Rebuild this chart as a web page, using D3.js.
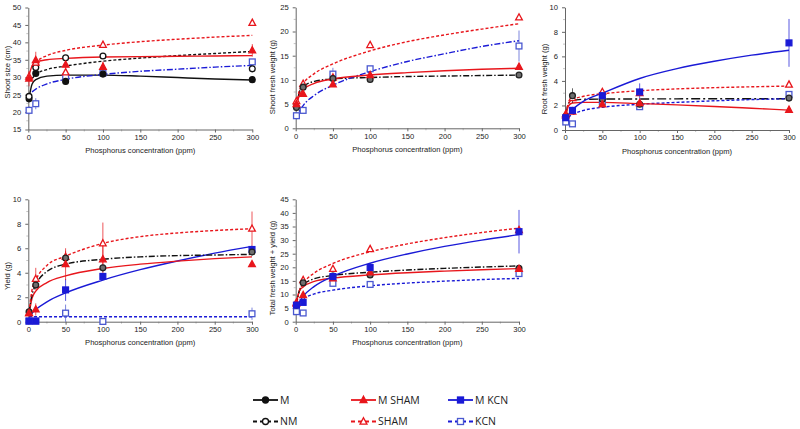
<!DOCTYPE html>
<html><head><meta charset="utf-8">
<script src="https://cdn.jsdelivr.net/npm/d3@7"></script>
<style>
html,body{margin:0;padding:0;background:#fff;}
svg{display:block;font-family:"Liberation Sans",Arial,sans-serif;}
</style></head>
<body>
<svg id="chart" width="800" height="429"></svg>
<script>
// ---------- DATA ----------
const phosphorus = [1, 10, 50, 100, 300];           // measured concentrations (ppm)
const fitX = [1, 5, 10, 25, 50, 100, 150, 200, 250, 300]; // x positions where trend lines were read
const xTicks = [0, 50, 100, 150, 200, 250, 300];
const legendLabels = ["M", "M SHAM", "M KCN", "NM", "SHAM", "KCN"];

// Panel 1: Shoot size (cm)
const shootM      = [23.8, 31.1, 28.8, 30.9, 29.3];
const shootNM     = [24.5, 32.8, 35.6, 36.1, 32.4];
const shootMSHAM  = [29.6, 34.9, 33.6, 33.0, 37.7];
const shootSHAM   = [30.2, 34.2, 31.4, 39.3, 45.6];
const shootKCN    = [20.5, 22.4, 30.1, 31.2, 34.4];
const shootMSHAMse= [2.2, 2.4, 1.2, 1.5, 1.8];
const shootKCNse  = [1.2, 1.6, 0.6, 0.5, 0.6];
const shootSmallSe= [0.4, 0.5, 0.5, 0.5, 0.5];
const shootFitM     = [24.0, 28.0, 29.3, 30.3, 30.6, 30.6, 30.3, 29.9, 29.5, 29.2];
const shootFitNM    = [null, 29.6, 30.8, 32.2, 33.2, 34.6, 35.5, 36.2, 36.8, 37.4];
const shootFitMSHAM = [30.5, 33.2, 34.3, 35.0, 35.4, 35.8, 35.9, 36.0, 36.1, 36.2];
const shootFitSHAM  = [null, 33.0, 34.3, 36.2, 37.7, 39.2, 40.2, 40.9, 41.5, 42.0];
const shootFitKCN   = [null, 25.8, 26.6, 28.1, 29.4, 30.8, 31.7, 32.3, 32.9, 33.4];

// Panel 2: Shoot fresh weight (g)
const sfwMNM    = [4.3, 8.5, 10.3, 10.1, 11.0];
const sfwMSHAM  = [5.0, 7.1, 9.1, 11.0, 12.7];
const sfwSHAM   = [5.6, 9.2, 10.5, 17.2, 22.9];
const sfwKCN    = [2.6, 3.7, 11.2, 12.3, 17.0];
const sfwKCNse  = [0.3, 0.4, 1.3, 0.5, 3.2];
const sfwSmallSe= [0.3, 0.4, 0.4, 0.5, 0.5];
const sfwFitMNM   = [4.3, 7.5, 8.6, 9.7, 10.2, 10.5, 10.7, 10.8, 10.9, 11.0];
const sfwFitMSHAM = [5.0, 6.8, 8.0, 9.3, 10.2, 11.0, 11.5, 11.9, 12.2, 12.4];
const sfwFitSHAM  = [5.0, 7.8, 9.2, 11.3, 13.3, 16.0, 17.9, 19.3, 20.5, 21.6];
const sfwFitKCN   = [1.9, 3.5, 4.7, 6.8, 8.9, 11.7, 13.8, 15.4, 16.9, 18.1];

// Panel 3: Root fresh weight (g)
const rfwMNM    = [1.1, 2.8, 2.5, 2.1, 2.6];
const rfwMSHAM  = [1.2, 1.5, 2.1, 2.2, 1.65];
const rfwSHAM   = [1.3, 2.6, 3.1, 3.0, 3.7];
const rfwMKCN   = [1.0, 1.6, 2.8, 3.1, 7.1];
const rfwKCN    = [0.65, 0.5, 2.3, 1.9, 2.9];
const rfwMKCNse = [0.1, 0.2, 0.3, 0.7, 1.95];
const rfwMNMse  = [0.1, 0.6, 0.2, 0.2, 0.2];
const rfwFitMNM   = [1.2, 2.2, 2.4, 2.5, 2.52, 2.53, 2.54, 2.55, 2.55, 2.55];
const rfwFitMSHAM = [1.2, 2.0, 2.2, 2.25, 2.25, 2.15, 2.05, 1.92, 1.77, 1.62];
const rfwFitSHAM  = [1.4, 2.2, 2.45, 2.75, 2.95, 3.2, 3.35, 3.45, 3.52, 3.58];
const rfwFitMKCN  = [0.9, 1.3, 1.65, 2.35, 3.0, 4.2, 5.0, 5.6, 6.1, 6.5];
const rfwFitKCN   = [0.7, 1.05, 1.25, 1.6, 1.85, 2.1, 2.25, 2.38, 2.48, 2.55];

// Panel 4: Yield (g)
const yldMNM    = [0.8, 3.0, 5.2, 4.4, 5.7];
const yldMSHAM  = [0.7, 1.0, 4.7, 5.1, 4.7];
const yldSHAM   = [0.7, 3.5, 5.3, 6.4, 7.6];
const yldMKCN   = [0.05, 0.05, 2.6, 3.7, 5.9];
const yldKCN    = [0.05, 0.05, 0.7, 0.02, 0.65];
const yldMNMse  = [0.1, 0.3, 0.3, 0.3, 0.3];
const yldMSHAMse= [0.2, 0.5, 1.3, 1.2, 0.2];
const yldSHAMse = [0.2, 0.9, 0.5, 1.7, 1.4];
const yldMKCNse = [0, 0, 0.9, 0.3, 0.3];
const yldKCNse  = [0, 0, 0.7, 0, 0.5];
const yldFitMNM   = [0.8, 2.2, 3.0, 4.1, 4.7, 5.1, 5.3, 5.4, 5.45, 5.5];
const yldFitMSHAM = [0.6, 1.9, 2.5, 3.2, 3.75, 4.35, 4.7, 4.95, 5.15, 5.3];
const yldFitSHAM  = [0.8, 2.6, 3.4, 4.6, 5.35, 6.4, 6.95, 7.25, 7.45, 7.6];
const yldFitMKCN  = [0.3, 0.68, 0.99, 1.62, 2.35, 3.4, 4.25, 4.96, 5.6, 6.15];
const yldFitKCN   = [0.4, 0.4, 0.4, 0.4, 0.4, 0.4, 0.4, 0.4, 0.4, 0.4];

// Panel 5: Total fresh weight + yield (g)
const totMNM    = [6.1, 14.3, 16.8, 17.2, 19.6];
const totMSHAM  = [7.0, 9.8, 15.9, 18.1, 19.4];
const totSHAM   = [6.7, 15.3, 19.4, 26.7, 33.7];
const totMKCN   = [6.1, 7.1, 16.6, 19.9, 33.1];
const totKCN    = [3.7, 3.2, 14.1, 13.7, 17.7];
const totMKCNse = [0.3, 0.5, 1.5, 1.0, 8.0];
const totSmallSe= [0.5, 1.0, 1.0, 1.0, 1.0];
const totFitMNM   = [6.2, 11.5, 13.5, 15.8, 17.0, 18.2, 19.0, 19.6, 20.1, 20.5];
const totFitMSHAM = [6.9, 11.3, 12.8, 14.8, 16.0, 17.2, 18.0, 18.6, 19.1, 19.5];
const totFitSHAM  = [7.6, 11.4, 14.0, 17.9, 21.4, 25.7, 28.6, 30.9, 32.8, 34.4];
const totFitMKCN  = [4.1, 7.2, 9.3, 13.0, 16.7, 21.5, 24.9, 27.7, 30.0, 32.0];
const totFitKCN   = [3.8, 6.8, 8.3, 10.2, 11.6, 13.2, 14.2, 14.9, 15.5, 15.9];

// ---------- STYLES ----------
const RED = "#e8161c", BLUE = "#1a1ad6", BLUE2 = "#4a58d0", BLACK = "#111";
const DASH = {solid: null, dash: "3,2", dashdot: "6,2,1.5,2", longdashdot: "9,3,2,3"};
const MARK = {
  M:     {shape: "circle",   fill: BLACK,  stroke: BLACK},
  NM:    {shape: "circle",   fill: "#fff", stroke: BLACK},
  MNM:   {shape: "circle",   fill: "#6e6e6e", stroke: "#222"},
  MSHAM: {shape: "triangle", fill: RED,    stroke: RED},
  SHAM:  {shape: "triangle", fill: "#fff", stroke: RED},
  MKCN:  {shape: "square",   fill: BLUE,   stroke: BLUE},
  KCN:   {shape: "square",   fill: "#fff", stroke: BLUE2}
};

// ---------- PANELS ----------
const panels = [
  {title: "Shoot size (cm)", yDomain: [15, 50], yStep: 5, x0: 28.3, x1: 252.3, yTop: 7.5, yBot: 129.5, titleX: 7, titleY: 72,
   fits: [
     {v: shootFitM, c: BLACK, d: "solid"}, {v: shootFitNM, c: BLACK, d: "dash"},
     {v: shootFitKCN, c: BLUE, d: "dashdot"}, {v: shootFitMSHAM, c: RED, d: "solid"}, {v: shootFitSHAM, c: RED, d: "dash"}],
   pts: [
     {v: shootKCN, se: shootKCNse, m: "KCN"}, {v: shootM, se: shootSmallSe, m: "M"}, {v: shootNM, se: shootSmallSe, m: "NM"},
     {v: shootSHAM, se: shootSmallSe, m: "SHAM"}, {v: shootMSHAM, se: shootMSHAMse, m: "MSHAM"}]},
  {title: "Shoot fresh weight (g)", yDomain: [0, 25], yStep: 5, x0: 295.7, x1: 519, yTop: 7.3, yBot: 128.3, titleX: 272, titleY: 77,
   fits: [
     {v: sfwFitMNM, c: BLACK, d: "dashdot"}, {v: sfwFitKCN, c: BLUE, d: "dashdot"},
     {v: sfwFitMSHAM, c: RED, d: "solid"}, {v: sfwFitSHAM, c: RED, d: "dash"}],
   pts: [
     {v: sfwKCN, se: sfwKCNse, m: "KCN"}, {v: sfwSHAM, se: sfwSmallSe, m: "SHAM"},
     {v: sfwMNM, se: sfwSmallSe, m: "MNM"}, {v: sfwMSHAM, se: sfwSmallSe, m: "MSHAM"}]},
  {title: "Root fresh weight (g)", yDomain: [0, 10], yStep: 2, x0: 565, x1: 789, yTop: 7.3, yBot: 130, titleX: 544, titleY: 79,
   fits: [
     {v: rfwFitMNM, c: BLACK, d: "longdashdot"}, {v: rfwFitKCN, c: BLUE, d: "dash"},
     {v: rfwFitMSHAM, c: RED, d: "solid"}, {v: rfwFitSHAM, c: RED, d: "dash"}, {v: rfwFitMKCN, c: BLUE, d: "solid"}],
   pts: [
     {v: rfwKCN, se: null, m: "KCN"}, {v: rfwSHAM, se: null, m: "SHAM"}, {v: rfwMNM, se: rfwMNMse, m: "MNM"},
     {v: rfwMSHAM, se: null, m: "MSHAM"}, {v: rfwMKCN, se: rfwMKCNse, m: "MKCN"}]},
  {title: "Yield (g)", yDomain: [0, 10], yStep: 2, x0: 28.3, x1: 252, yTop: 199.3, yBot: 321.7, titleX: 7, titleY: 276,
   fits: [
     {v: yldFitKCN, c: BLUE, d: "dash"}, {v: yldFitMKCN, c: BLUE, d: "solid"}, {v: yldFitMSHAM, c: RED, d: "solid"},
     {v: yldFitMNM, c: BLACK, d: "dashdot"}, {v: yldFitSHAM, c: RED, d: "dash"}],
   pts: [
     {v: yldKCN, se: yldKCNse, m: "KCN"}, {v: yldMKCN, se: yldMKCNse, m: "MKCN"}, {v: yldSHAM, se: yldSHAMse, m: "SHAM"},
     {v: yldMNM, se: yldMNMse, m: "MNM"}, {v: yldMSHAM, se: yldMSHAMse, m: "MSHAM"}]},
  {title: "Total fresh weight + yield (g)", yDomain: [0, 45], yStep: 5, x0: 295.7, x1: 519, yTop: 199.3, yBot: 321.7, titleX: 272, titleY: 268,
   fits: [
     {v: totFitKCN, c: BLUE, d: "dash"}, {v: totFitMSHAM, c: RED, d: "solid"}, {v: totFitMNM, c: BLACK, d: "dashdot"},
     {v: totFitMKCN, c: BLUE, d: "solid"}, {v: totFitSHAM, c: RED, d: "dash"}],
   pts: [
     {v: totKCN, se: null, m: "KCN"}, {v: totSHAM, se: totSmallSe, m: "SHAM"}, {v: totMNM, se: null, m: "MNM"},
     {v: totMSHAM, se: null, m: "MSHAM"}, {v: totMKCN, se: totMKCNse, m: "MKCN"}]}
];

const svg = d3.select("#chart");
const AX = "#666";

function drawMarker(g, cx, cy, key, size) {
  const s = MARK[key];
  const r = size;
  let el;
  if (s.shape === "circle") el = g.append("circle").attr("cx", cx).attr("cy", cy).attr("r", r);
  else if (s.shape === "square") el = g.append("rect").attr("x", cx - r).attr("y", cy - r).attr("width", 2 * r).attr("height", 2 * r);
  else {
    const h = r * 1.15;
    el = g.append("path").attr("d", `M${cx},${cy - h * 1.1}L${cx + h},${cy + h * 0.75}L${cx - h},${cy + h * 0.75}Z`);
  }
  el.attr("fill", s.fill).attr("stroke", s.stroke).attr("stroke-width", 1.3);
}

panels.forEach(p => {
  const x = d3.scaleLinear().domain([0, 300]).range([p.x0, p.x1]);
  const y = d3.scaleLinear().domain(p.yDomain).range([p.yBot, p.yTop]);
  const g = svg.append("g");

  // minor ticks
  const yMinor = d3.range(p.yDomain[0] + p.yStep / 2, p.yDomain[1], p.yStep);
  g.append("g").selectAll("line").data(yMinor).join("line")
    .attr("x1", p.x0 - 2).attr("x2", p.x0).attr("y1", d => y(d)).attr("y2", d => y(d))
    .attr("stroke", "#aaa").attr("stroke-width", 0.7);
  const xMinor = d3.range(25, 300, 50);
  g.append("g").selectAll("line").data(xMinor).join("line")
    .attr("x1", d => x(d)).attr("x2", d => x(d)).attr("y1", p.yBot).attr("y2", p.yBot + 2)
    .attr("stroke", "#aaa").attr("stroke-width", 0.7);

  const yAxis = g.append("g").attr("transform", `translate(${p.x0},0)`)
    .call(d3.axisLeft(y).tickValues(d3.range(p.yDomain[0], p.yDomain[1] + 0.001, p.yStep)).tickSize(3).tickSizeOuter(0).tickPadding(4));
  const xAxis = g.append("g").attr("transform", `translate(0,${p.yBot})`)
    .call(d3.axisBottom(x).tickValues(xTicks).tickSize(3).tickSizeOuter(0).tickPadding(2));
  [yAxis, xAxis].forEach(a => {
    a.select(".domain").attr("stroke", AX).attr("stroke-width", 1);
    a.selectAll(".tick line").attr("stroke", AX);
    a.selectAll("text").attr("font-size", 7.6).attr("fill", "#222").attr("font-family", "Liberation Sans, Arial, sans-serif");
  });

  g.append("text").attr("x", (p.x0 + p.x1) / 2).attr("y", p.yBot + 23.5).attr("text-anchor", "middle")
    .attr("font-size", 7.6).attr("fill", "#222").text("Phosphorus concentration (ppm)");
  g.append("text").attr("transform", `translate(${p.titleX + 2.5},${p.titleY}) rotate(-90)`).attr("text-anchor", "middle")
    .attr("font-size", 7.6).attr("fill", "#222").text(p.title);

  // trend lines
  p.fits.forEach(f => {
    const line = d3.line().defined(d => d[1] != null).x(d => x(d[0])).y(d => y(d[1])).curve(d3.curveMonotoneX);
    g.append("path").attr("d", line(fitX.map((xv, i) => [xv, f.v[i]])))
      .attr("fill", "none").attr("stroke", f.c).attr("stroke-width", 1.4)
      .attr("stroke-dasharray", DASH[f.d]);
  });

  // error bars + markers
  p.pts.forEach(s => {
    const col = MARK[s.m].stroke;
    if (s.se) {
      phosphorus.forEach((xv, i) => {
        if (!s.se[i]) return;
        g.append("line").attr("x1", x(xv)).attr("x2", x(xv))
          .attr("y1", y(Math.max(p.yDomain[0], s.v[i] - s.se[i]))).attr("y2", y(s.v[i] + s.se[i]))
          .attr("stroke", col).attr("stroke-width", 0.9).attr("opacity", 0.8);
      });
    }
  });
  p.pts.forEach(s => {
    phosphorus.forEach((xv, i) => drawMarker(g, x(xv), y(s.v[i]), s.m, 2.9));
  });
});

// ---------- LEGEND ----------
const legendItems = [
  {label: legendLabels[0], c: BLACK, d: "solid", m: "M"},
  {label: legendLabels[1], c: RED,   d: "solid", m: "MSHAM"},
  {label: legendLabels[2], c: BLUE,  d: "solid", m: "MKCN"},
  {label: legendLabels[3], c: BLACK, d: "dash",  m: "NM"},
  {label: legendLabels[4], c: RED,   d: "dash",  m: "SHAM"},
  {label: legendLabels[5], c: BLUE,  d: "dash",  m: "KCN"}
];
const legCols = [253, 351, 448], legRows = [400, 421.5];
const lg = svg.append("g");
legendItems.forEach((it, i) => {
  const cx = legCols[i % 3], cy = legRows[Math.floor(i / 3)];
  lg.append("line").attr("x1", cx).attr("x2", cx + 25).attr("y1", cy).attr("y2", cy)
    .attr("stroke", it.c).attr("stroke-width", 1.8).attr("stroke-dasharray", it.d === "dash" ? "4,3" : null);
  drawMarker(lg, cx + 12.5, cy, it.m, 3);
  lg.append("text").attr("x", cx + 27).attr("y", cy + 3.6).attr("font-size", 10.5).attr("fill", "#222")
    .attr("font-family", "Open Sans, Liberation Sans, sans-serif").text(it.label);
});
</script>
</body></html>
